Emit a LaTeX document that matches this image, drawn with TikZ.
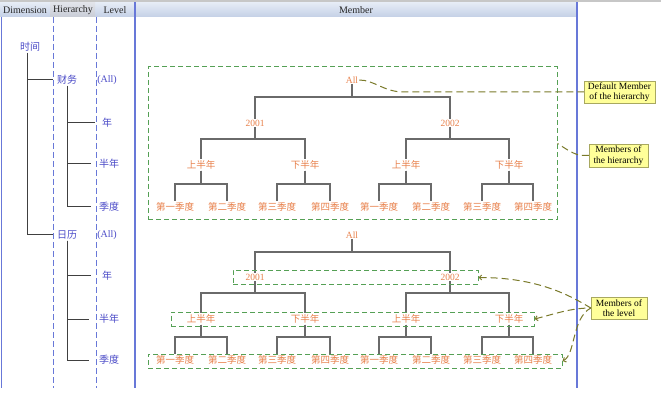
\documentclass[tikz,border=0pt]{standalone}
\usepackage{fontspec}
\setmainfont{Liberation Serif}
\newfontfamily\cjk{Noto Sans CJK SC}
\usetikzlibrary{arrows.meta}
\definecolor{dimblue}{HTML}{4B4BC8}
\definecolor{memorange}{HTML}{E8804A}
\definecolor{gridblue}{HTML}{6878D8}
\definecolor{boxgreen}{HTML}{55A055}
\definecolor{calloutline}{HTML}{7A7A2A}
\definecolor{calloutfill}{HTML}{FFFF99}
\definecolor{calloutdraw}{HTML}{A8A860}
\definecolor{treegray}{HTML}{6A6A6A}
\definecolor{hdrtop}{HTML}{E6ECF6}
\definecolor{hdrbot}{HTML}{C4D0E6}
\definecolor{hdrgraytop}{HTML}{E2E4EA}
\definecolor{hdrgraybot}{HTML}{C8CCD6}
\newcommand\tedge[3]{\draw[treeline] (#1.south) -- (#1.south |- 0,#3) -| (#2.north);}
\begin{document}
\begin{tikzpicture}[x=1pt,y=-1pt,
  dimlab/.style={text=dimblue, font=\cjk\fontsize{10}{12}\selectfont, inner sep=1pt},
  alllab/.style={text=dimblue, font=\fontsize{10}{12}\selectfont, inner sep=1pt},
  mem/.style={text=memorange, font=\cjk\fontsize{9.5}{11}\selectfont, inner sep=1pt},
  memlat/.style={text=memorange, font=\fontsize{9.5}{11}\selectfont, inner sep=1pt},
  treeline/.style={draw=treegray, line width=1.1pt},
  dimline/.style={draw=black!75, line width=1pt},
  gbox/.style={draw=boxgreen, dash pattern=on 5pt off 3pt, line width=1pt, inner sep=0pt},
  callout/.style={draw=calloutdraw, fill=calloutfill, font=\fontsize{9.5}{10.5}\selectfont, align=center, inner sep=1pt},
  cline/.style={draw=calloutline, dash pattern=on 7pt off 4pt, line width=1pt},
  ctip/.style={{Straight Barb[length=2.5pt,width=5pt]}-},
  gridsolid/.style={draw=gridblue, line width=1.2pt},
  griddash/.style={draw=gridblue, line width=1pt, dash pattern=on 6pt off 3pt},
  hdr/.style={font=\fontsize{10}{12}\selectfont, text=black!85, inner sep=1pt}
]
\useasboundingbox (0,0) rectangle (661,403);
\fill[white] (0,0) rectangle (661,403);
% header
\fill[black!22] (0,0) rectangle (661,2.5);
\shade[top color=hdrtop, bottom color=hdrbot] (0,2.5) rectangle (577,17);
\shade[top color=hdrgraytop, bottom color=hdrgraybot] (50,2.5) rectangle (95,17);
\node[hdr] (hdim) at (25,10) {Dimension};
\node[hdr] (hhier) at (73,10) {Hierarchy};
\node[hdr] (hlev) at (115,10) {Level};
\node[hdr] (hmem) at (356,10) {Member};
% grid lines
\draw[gridsolid] (1.5,17) -- (1.5,388);
\draw[griddash] (53,17) -- (53,388);
\draw[griddash] (96,17) -- (96,388);
\draw[gridsolid] (135,2.5) -- (135,388);
\draw[gridsolid] (577,2.5) -- (577,388);
% dimension tree
\node[dimlab] (sj) at (30,47) {时间};
\node[dimlab] (cw) at (67,80) {财务};
\node[alllab] (cwall) at (107,80) {(All)};
\node[dimlab] (cwn) at (107,123) {年};
\node[dimlab] (cwbn) at (109,164) {半年};
\node[dimlab] (cwjd) at (109,207) {季度};
\node[dimlab] (rl) at (67,235) {日历};
\node[alllab] (rlall) at (107,235) {(All)};
\node[dimlab] (rln) at (107,276) {年};
\node[dimlab] (rlbn) at (109,319) {半年};
\node[dimlab] (rljd) at (109,360) {季度};
\draw[dimline] (sj.south) ++(-3,0) |- ([xshift=-3pt]cw.west);
\draw[dimline] (sj.south) ++(-3,0) |- ([xshift=-3pt]rl.west);
\draw[dimline] (cw.south) |- ([xshift=-6pt]cwn.west);
\draw[dimline] (cw.south) |- ([xshift=-7pt]cwbn.west);
\draw[dimline] (cw.south) |- ([xshift=-7pt]cwjd.west);
\draw[dimline] (rl.south) |- ([xshift=-10pt]rln.west);
\draw[dimline] (rl.south) |- ([xshift=-9pt]rlbn.west);
\draw[dimline] (rl.south) |- ([xshift=-9pt]rljd.west);
% top member tree
\node[memlat] (tA) at (352,80) {All};
\node[memlat] (t1) at (255,123) {2001};
\node[memlat] (t2) at (450,123) {2002};
\node[mem] (t11) at (201,165) {上半年};
\node[mem] (t12) at (305,165) {下半年};
\node[mem] (t21) at (406,165) {上半年};
\node[mem] (t22) at (509,165) {下半年};
\node[mem] (t111) at (175,207) {第一季度};
\node[mem] (t112) at (227,207) {第二季度};
\node[mem] (t121) at (277,207) {第三季度};
\node[mem] (t122) at (330,207) {第四季度};
\node[mem] (t211) at (379,207) {第一季度};
\node[mem] (t212) at (431,207) {第二季度};
\node[mem] (t221) at (482,207) {第三季度};
\node[mem] (t222) at (533,207) {第四季度};
\tedge{tA}{t1}{97}\tedge{tA}{t2}{97}
\tedge{t1}{t11}{139}\tedge{t1}{t12}{139}
\tedge{t2}{t21}{139}\tedge{t2}{t22}{139}
\tedge{t11}{t111}{184}\tedge{t11}{t112}{184}
\tedge{t12}{t121}{184}\tedge{t12}{t122}{184}
\tedge{t21}{t211}{184}\tedge{t21}{t212}{184}
\tedge{t22}{t221}{184}\tedge{t22}{t222}{184}
% bottom member tree
\node[memlat] (bA) at (352,235) {All};
\node[memlat] (b1) at (255,277) {2001};
\node[memlat] (b2) at (450,277) {2002};
\node[mem] (b11) at (201,319) {上半年};
\node[mem] (b12) at (305,319) {下半年};
\node[mem] (b21) at (406,319) {上半年};
\node[mem] (b22) at (509,319) {下半年};
\node[mem] (b111) at (175,360) {第一季度};
\node[mem] (b112) at (227,360) {第二季度};
\node[mem] (b121) at (277,360) {第三季度};
\node[mem] (b122) at (330,360) {第四季度};
\node[mem] (b211) at (379,360) {第一季度};
\node[mem] (b212) at (431,360) {第二季度};
\node[mem] (b221) at (482,360) {第三季度};
\node[mem] (b222) at (533,360) {第四季度};
\tedge{bA}{b1}{252}\tedge{bA}{b2}{252}
\tedge{b1}{b11}{293}\tedge{b1}{b12}{293}
\tedge{b2}{b21}{293}\tedge{b2}{b22}{293}
\tedge{b11}{b111}{337}\tedge{b11}{b112}{337}
\tedge{b12}{b121}{337}\tedge{b12}{b122}{337}
\tedge{b21}{b211}{337}\tedge{b21}{b212}{337}
\tedge{b22}{b221}{337}\tedge{b22}{b222}{337}
% green dashed boxes
\node[gbox, minimum width=409pt, minimum height=153pt] (hbox) at (352.5,143.5) {};
\node[gbox, minimum width=245pt, minimum height=14pt] (yrbox) at (355.5,277.5) {};
\node[gbox, minimum width=363pt, minimum height=14pt] (hybox) at (352.5,319) {};
\node[gbox, minimum width=414pt, minimum height=14pt] (qbox) at (355,361) {};
% callouts
\node[callout, minimum width=71pt, minimum height=22pt] (dm) at (619.5,92) {Default Member\\of the hierarchy};
\node[callout, minimum width=59pt, minimum height=23pt] (mh) at (618.5,155.5) {Members of\\the hierarchy};
\node[callout, minimum width=56pt, minimum height=22pt] (ml) at (619,308) {Members of\\the level};
\draw[cline] (tA.east) .. controls +(15,0) and +(-20,0) .. ([xshift=-180pt]dm.west) -- (dm.west);
\draw[cline] (mh.west) -- ++(-6,0) .. controls +(-8,0) and +(8,5) .. (hbox.east);
\draw[cline, ctip] (yrbox.east) .. controls +(60,0) and +(-20,-12) .. (ml.west);
\draw[cline, ctip] (hybox.east) .. controls +(20,-5) and +(-20,0) .. (ml.west);
\draw[cline, ctip] (qbox.east) .. controls +(13,-6) and +(-19,10) .. (ml.west);
\end{tikzpicture}
\end{document}
